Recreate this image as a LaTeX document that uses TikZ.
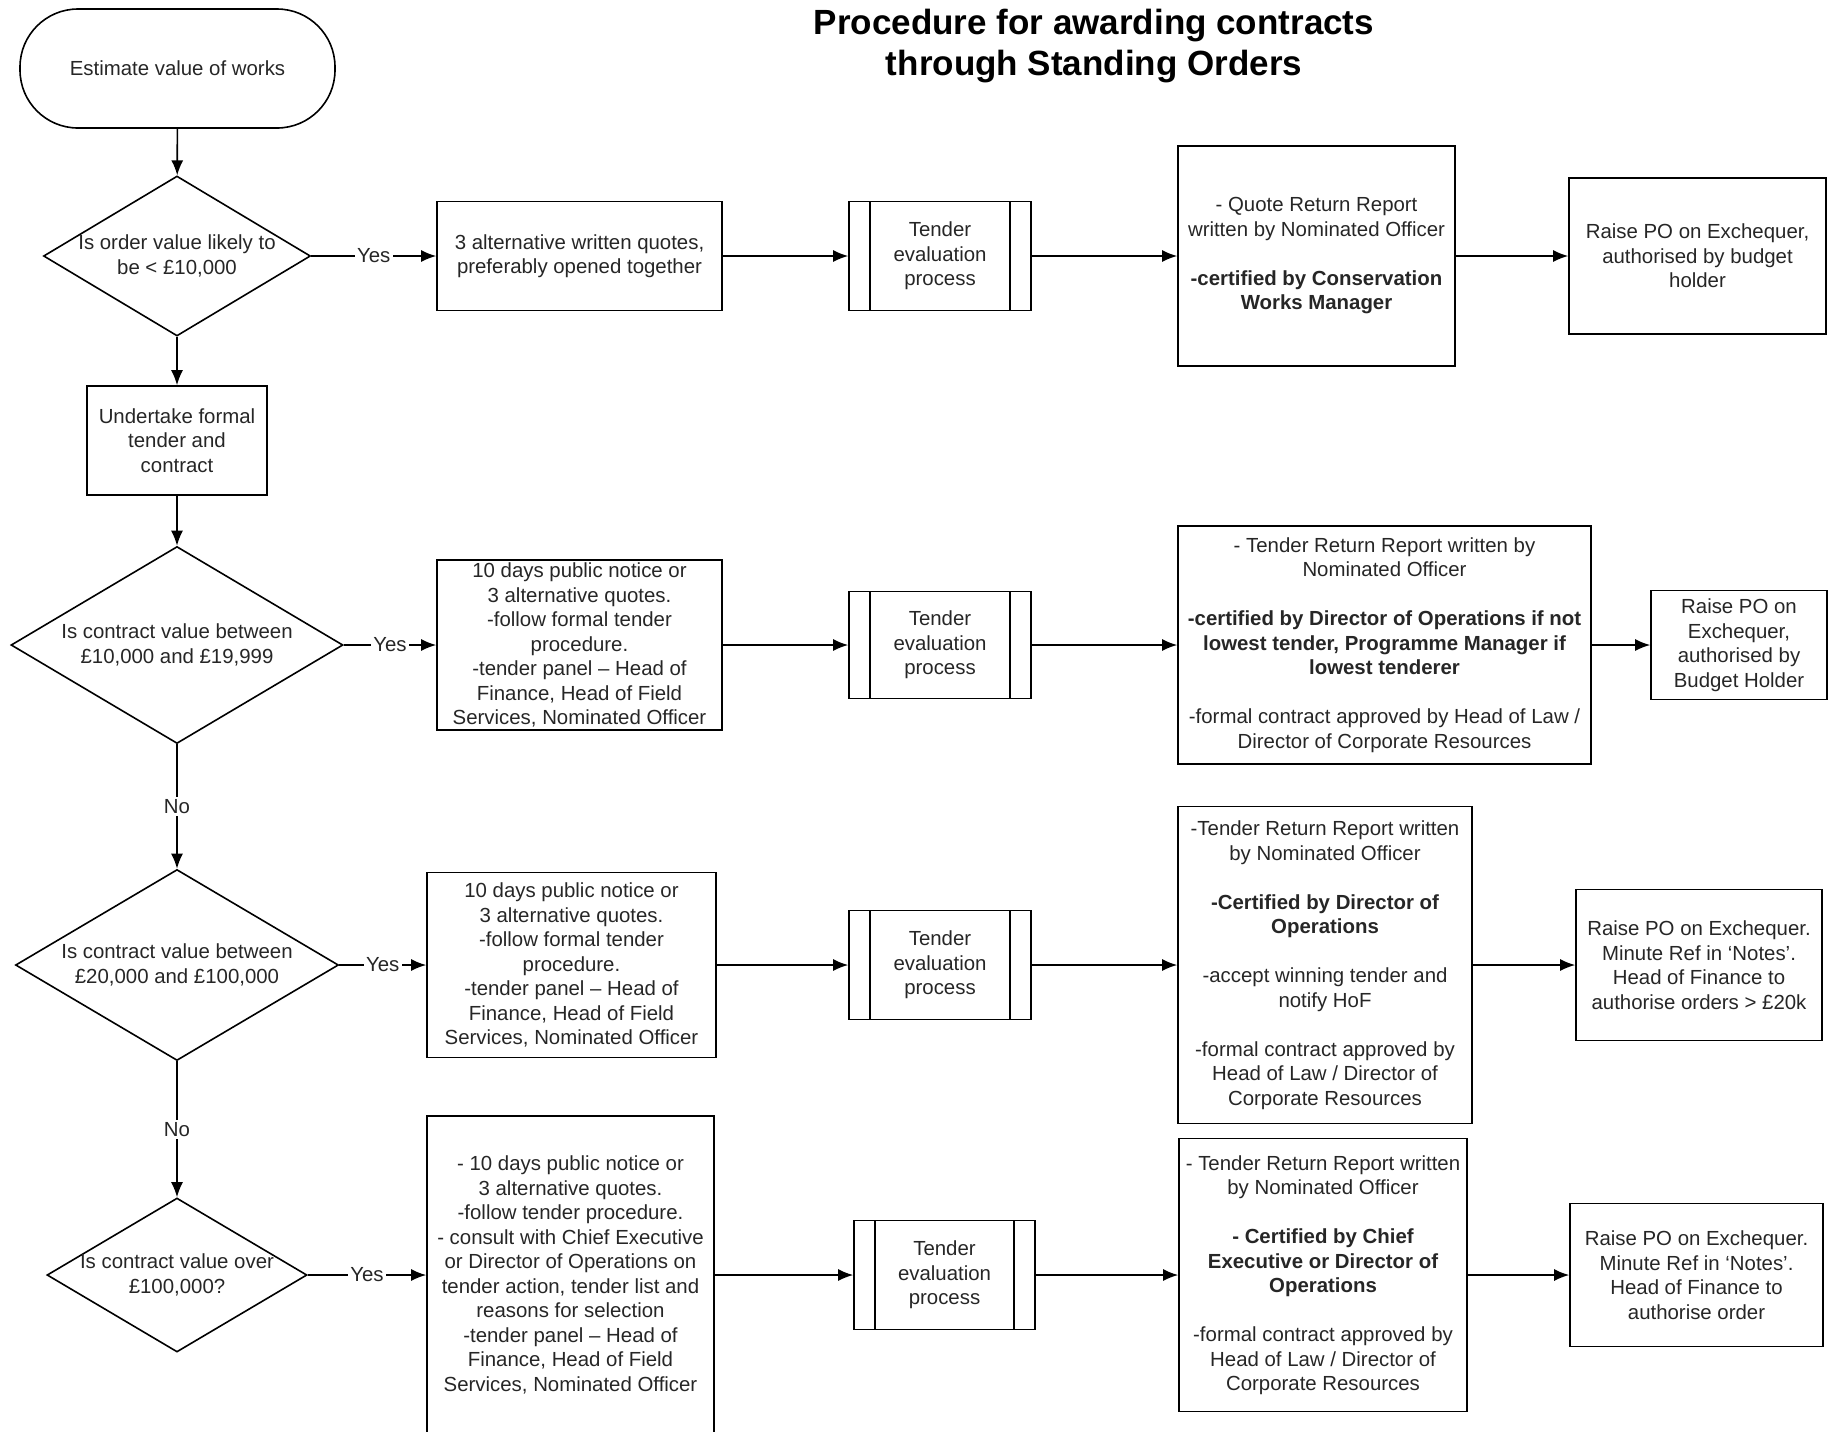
\documentclass[tikz,border=0pt]{standalone}
\usepackage{fontspec}
\setmainfont{Liberation Sans}
\usetikzlibrary{shapes.geometric,arrows.meta}
\tikzset{
  txt/.style={font=\fontsize{10.2}{12.25}\selectfont, align=center, text=black!85},
  box/.style={txt, draw, line width=0.8pt, rectangle, inner sep=0pt},
  proc/.style={box, path picture={
      \draw[line width=0.8pt] ([xshift=10.5pt]path picture bounding box.north west) -- ([xshift=10.5pt]path picture bounding box.south west);
      \draw[line width=0.8pt] ([xshift=-10.5pt]path picture bounding box.north east) -- ([xshift=-10.5pt]path picture bounding box.south east);}},
  dec/.style={draw, line width=0.8pt, diamond, inner sep=0pt},
  term/.style={box, rounded corners=29pt},
  arr/.style={line width=0.8pt, -{Latex[length=7.5pt,width=6pt]}},
  lab/.style={txt, fill=white, inner sep=1.2pt},
}
\begin{document}
\begin{tikzpicture}[x=0.5pt,y=-0.5pt]
\useasboundingbox (0,0) rectangle (1829,1431);
\clip (0,0) rectangle (1829,1431);
% title
\node[font=\fontsize{17.5}{20.5}\selectfont\bfseries, align=center] (title) at (1094,46) {Procedure for awarding contracts\\through Standing Orders};
% column 1
\node[term, minimum width=157.5pt, minimum height=59.5pt] (start) at (177.5,68.5) {Estimate value of works};
\node[dec, minimum width=133.5pt, minimum height=80pt] (d1) at (177,256) {};
\node[txt] (d1t) at (d1) {Is order value likely to\\be < £10,000};
\node[box, minimum width=90pt, minimum height=54.5pt] (u) at (177,440.5) {Undertake formal\\tender and\\contract};
\node[dec, minimum width=166pt, minimum height=98.5pt] (d2) at (177,645) {};
\node[txt] (d2t) at (d2) {Is contract value between\\£10,000 and £19,999};
\node[dec, minimum width=161.5pt, minimum height=95.5pt] (d3) at (177,965) {};
\node[txt] (d3t) at (d3) {Is contract value between\\£20,000 and £100,000};
\node[dec, minimum width=130pt, minimum height=77pt] (d4) at (177,1275) {};
\node[txt] (d4t) at (d4) {Is contract value over\\£100,000?};
% row 1
\node[box, minimum width=142.5pt, minimum height=54.5pt] (q1) at (579.5,256) {3 alternative written quotes,\\preferably opened together};
\node[proc, minimum width=91pt, minimum height=54.5pt] (t1) at (940,256) {Tender\\evaluation\\process};
\node[box, minimum width=138.5pt, minimum height=110pt] (r1) at (1316.5,256) {- Quote Return Report\\written by Nominated Officer\\[12.25pt]\textbf{-certified by Conservation}\\\textbf{Works Manager}};
\node[box, minimum width=128.5pt, minimum height=78pt] (p1) at (1697.5,256) {Raise PO on Exchequer,\\authorised by budget\\holder};
% row 2
\node[box, minimum width=142.5pt, minimum height=85pt] (b2) at (579.5,645) {10 days public notice or\\3 alternative quotes.\\-follow formal tender\\procedure.\\-tender panel -- Head of\\Finance, Head of Field\\Services, Nominated Officer};
\node[proc, minimum width=91pt, minimum height=53.5pt] (t2) at (940,645) {Tender\\evaluation\\process};
\node[box, minimum width=206.5pt, minimum height=119pt] (r2) at (1384.5,645) {- Tender Return Report written by\\Nominated Officer\\[12.25pt]\textbf{-certified by Director of Operations if not}\\\textbf{lowest tender, Programme Manager if}\\\textbf{lowest tenderer}\\[12.25pt]-formal contract approved by Head of Law /\\Director of Corporate Resources};
\node[box, minimum width=88pt, minimum height=54.5pt] (p2) at (1739,645) {Raise PO on\\Exchequer,\\authorised by\\Budget Holder};
% row 3
\node[box, minimum width=144.5pt, minimum height=92.5pt] (b3) at (571.5,965) {10 days public notice or\\3 alternative quotes.\\-follow formal tender\\procedure.\\-tender panel -- Head of\\Finance, Head of Field\\Services, Nominated Officer};
\node[proc, minimum width=91pt, minimum height=54.5pt] (t3) at (940,965) {Tender\\evaluation\\process};
\node[box, minimum width=147pt, minimum height=158.5pt] (r3) at (1325,965) {-Tender Return Report written\\by Nominated Officer\\[12.25pt]\textbf{-Certified by Director of}\\\textbf{Operations}\\[12.25pt]-accept winning tender and\\notify HoF\\[12.25pt]-formal contract approved by\\Head of Law / Director of\\Corporate Resources};
\node[box, minimum width=123pt, minimum height=75.5pt] (p3) at (1699,965) {Raise PO on Exchequer.\\Minute Ref in `Notes'.\\Head of Finance to\\authorise orders > £20k};
% row 4
\node[box, minimum width=143.5pt, minimum height=159pt] (b4) at (570.5,1275) {- 10 days public notice or\\3 alternative quotes.\\-follow tender procedure.\\- consult with Chief Executive\\or Director of Operations on\\tender action, tender list and\\reasons for selection\\-tender panel -- Head of\\Finance, Head of Field\\Services, Nominated Officer};
\node[proc, minimum width=90.5pt, minimum height=54.5pt] (t4) at (944.5,1275) {Tender\\evaluation\\process};
\node[box, minimum width=144pt, minimum height=136.5pt] (r4) at (1323,1275) {- Tender Return Report written\\by Nominated Officer\\[12.25pt]\textbf{- Certified by Chief}\\\textbf{Executive or Director of}\\\textbf{Operations}\\[12.25pt]-formal contract approved by\\Head of Law / Director of\\Corporate Resources};
\node[box, minimum width=126.5pt, minimum height=71.5pt] (p4) at (1696.5,1275) {Raise PO on Exchequer.\\Minute Ref in `Notes'.\\Head of Finance to\\authorise order};
% connectors: spine
\draw[arr] (start) -- (d1);
\draw[arr] (d1) -- (u);
\draw[arr] (u) -- (d2);
\draw[arr] (d2) -- node[lab] (no1) {No} (d3);
\draw[arr] (d3) -- node[lab] (no2) {No} (d4);
% rows
\draw[arr] (d1) -- node[lab] (y1) {Yes} (q1);
\draw[arr] (q1) -- (t1);
\draw[arr] (t1) -- (r1);
\draw[arr] (r1) -- (p1);
\draw[arr] (d2) -- node[lab] (y2) {Yes} (b2);
\draw[arr] (b2) -- (t2);
\draw[arr] (t2) -- (r2);
\draw[arr] (r2) -- (p2);
\draw[arr] (d3) -- node[lab] (y3) {Yes} (b3);
\draw[arr] (b3) -- (t3);
\draw[arr] (t3) -- (r3);
\draw[arr] (r3) -- (p3);
\draw[arr] (d4) -- node[lab] (y4) {Yes} (b4);
\draw[arr] (b4) -- (t4);
\draw[arr] (t4) -- (r4);
\draw[arr] (r4) -- (p4);
\end{tikzpicture}
\end{document}
